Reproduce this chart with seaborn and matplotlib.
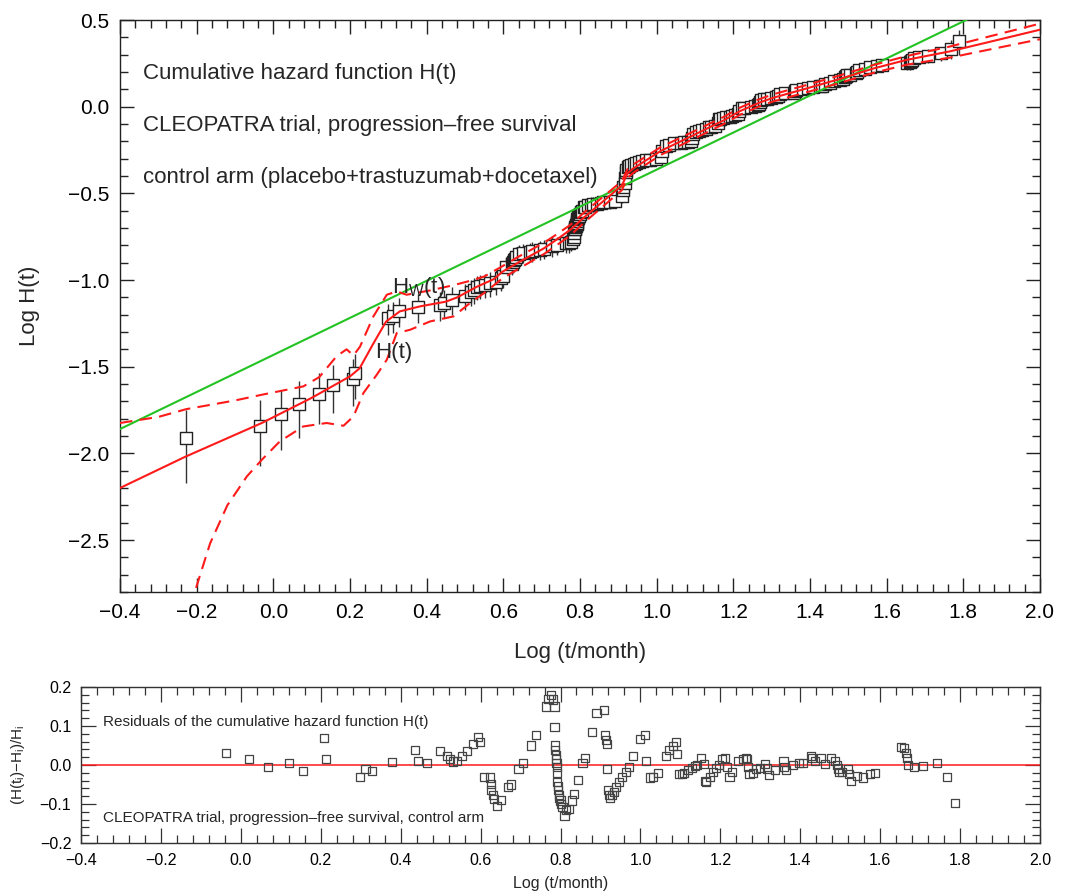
import numpy as np
import matplotlib
matplotlib.use("Agg")
import matplotlib.pyplot as plt
from matplotlib.ticker import MultipleLocator, FuncFormatter
import seaborn as sns

sns.set_theme(style="ticks")
plt.rcParams['font.family'] = ['Liberation Sans', 'DejaVu Sans']
plt.rcParams['mathtext.default'] = 'regular'
plt.rcParams['axes.unicode_minus'] = True

# ---- empirical cumulative hazard at the event times ----
log_t = [
    -0.227, -0.036, 0.020, 0.067, 0.120, 0.155, 0.208, 0.214, 0.299, 0.312,
    0.328, 0.378, 0.436, 0.444, 0.465, 0.499, 0.515, 0.524, 0.532, 0.540,
    0.553, 0.565, 0.580, 0.594, 0.598, 0.608, 0.623, 0.626, 0.627, 0.630,
    0.634, 0.640, 0.651, 0.669, 0.675, 0.695, 0.706, 0.727, 0.739, 0.764,
    0.770, 0.776, 0.781, 0.785, 0.785, 0.787, 0.787, 0.788, 0.789, 0.790,
    0.791, 0.791, 0.791, 0.793, 0.794, 0.796, 0.797, 0.800, 0.802, 0.805,
    0.810, 0.814, 0.820, 0.828, 0.834, 0.844, 0.855, 0.861, 0.878, 0.890,
    0.909, 0.911, 0.913, 0.917, 0.917, 0.919, 0.921, 0.924, 0.928, 0.934,
    0.940, 0.946, 0.955, 0.963, 0.971, 0.982, 0.998, 1.011, 1.015, 1.025,
    1.032, 1.044, 1.063, 1.072, 1.081, 1.089, 1.092, 1.096, 1.103, 1.110,
    1.119, 1.128, 1.136, 1.142, 1.152, 1.159, 1.163, 1.165, 1.174, 1.182,
    1.190, 1.196, 1.204, 1.212, 1.216, 1.223, 1.229, 1.245, 1.256, 1.264,
    1.267, 1.270, 1.273, 1.281, 1.289, 1.299, 1.311, 1.317, 1.322, 1.336,
    1.358, 1.360, 1.364, 1.382, 1.396, 1.408, 1.426, 1.430, 1.438, 1.453,
    1.463, 1.478, 1.486, 1.492, 1.494, 1.497, 1.504, 1.519, 1.522, 1.527,
    1.543, 1.557, 1.574, 1.588, 1.652, 1.660, 1.664, 1.667, 1.670, 1.685,
    1.708, 1.742, 1.767, 1.788,
]
log_H = [
    -1.912, -1.844, -1.775, -1.715, -1.658, -1.605, -1.570, -1.536, -1.218, -1.206,
    -1.177, -1.158, -1.147, -1.132, -1.114, -1.092, -1.068, -1.055, -1.042, -1.035,
    -1.027, -1.020, -1.009, -0.990, -0.977, -0.926, -0.906, -0.895, -0.886, -0.876,
    -0.866, -0.850, -0.844, -0.837, -0.833, -0.826, -0.820, -0.806, -0.800, -0.788,
    -0.786, -0.780, -0.765, -0.751, -0.731, -0.707, -0.703, -0.695, -0.689, -0.682,
    -0.675, -0.669, -0.659, -0.649, -0.643, -0.634, -0.628, -0.619, -0.610, -0.601,
    -0.580, -0.579, -0.569, -0.565, -0.562, -0.559, -0.558, -0.552, -0.548, -0.545,
    -0.513, -0.478, -0.464, -0.441, -0.413, -0.379, -0.365, -0.347, -0.342, -0.335,
    -0.330, -0.327, -0.321, -0.314, -0.309, -0.306, -0.302, -0.288, -0.256, -0.226,
    -0.220, -0.211, -0.209, -0.206, -0.201, -0.197, -0.181, -0.155, -0.147, -0.141,
    -0.134, -0.127, -0.120, -0.115, -0.111, -0.097, -0.073, -0.071, -0.067, -0.062,
    -0.057, -0.053, -0.049, -0.040, -0.026, -0.007, -0.006, -0.004, 0.005, 0.012,
    0.016, 0.027, 0.037, 0.042, 0.045, 0.051, 0.054, 0.063, 0.074, 0.077,
    0.081, 0.089, 0.094, 0.100, 0.106, 0.113, 0.117, 0.122, 0.130, 0.137,
    0.149, 0.153, 0.161, 0.170, 0.175, 0.181, 0.185, 0.193, 0.201, 0.212,
    0.218, 0.229, 0.235, 0.242, 0.251, 0.255, 0.262, 0.269, 0.278, 0.286,
    0.295, 0.307, 0.333, 0.376,
]
# relative standard error of H at each point (error bars: H*(1 -/+ se))
rel_se = [
    0.45, 0.41, 0.38, 0.36, 0.33, 0.31, 0.30, 0.29, 0.20, 0.20,
    0.19, 0.19, 0.19, 0.18, 0.18, 0.17, 0.17, 0.17, 0.16, 0.16,
    0.16, 0.16, 0.16, 0.15, 0.15, 0.14, 0.14, 0.14, 0.14, 0.14,
    0.14, 0.13, 0.13, 0.13, 0.13, 0.13, 0.13, 0.13, 0.12, 0.12,
    0.12, 0.12, 0.12, 0.12, 0.12, 0.11, 0.11, 0.11, 0.11, 0.11,
    0.11, 0.11, 0.11, 0.10, 0.10, 0.10, 0.10, 0.10, 0.10, 0.10,
    0.10, 0.10, 0.10, 0.10, 0.10, 0.09, 0.09, 0.09, 0.09, 0.09,
    0.09, 0.085, 0.085, 0.085, 0.085, 0.085, 0.085, 0.085, 0.075, 0.075,
    0.075, 0.075, 0.075, 0.075, 0.075, 0.075, 0.075, 0.075, 0.075, 0.075,
    0.075, 0.075, 0.075, 0.075, 0.075, 0.075, 0.07, 0.07, 0.07, 0.07,
    0.07, 0.07, 0.07, 0.07, 0.07, 0.07, 0.07, 0.07, 0.07, 0.07,
    0.07, 0.07, 0.07, 0.07, 0.07, 0.07, 0.07, 0.07, 0.07, 0.07,
    0.07, 0.07, 0.07, 0.07, 0.07, 0.07, 0.07, 0.07, 0.07, 0.07,
    0.07, 0.07, 0.07, 0.07, 0.075, 0.075, 0.075, 0.075, 0.075, 0.075,
    0.075, 0.075, 0.075, 0.075, 0.075, 0.075, 0.075, 0.075, 0.075, 0.075,
    0.075, 0.075, 0.075, 0.075, 0.09, 0.09, 0.09, 0.09, 0.09, 0.09,
    0.09, 0.09, 0.12, 0.16,
]
# relative residuals (H(t_i) - H_i) / H_i of the fitted model
resid = [
    -0.215, 0.030, 0.015, -0.004, 0.006, -0.015, 0.069, 0.015, -0.031, -0.011,
    -0.015, 0.008, 0.038, 0.011, 0.004, 0.035, 0.024, 0.015, 0.009, 0.011,
    0.023, 0.035, 0.055, 0.072, 0.058, -0.030, -0.032, -0.048, -0.063, -0.078,
    -0.087, -0.104, -0.090, -0.057, -0.050, -0.011, 0.006, 0.050, 0.078, 0.150,
    0.170, 0.180, 0.168, 0.150, 0.098, 0.050, 0.039, 0.026, 0.015, 0.004,
    -0.006, -0.020, -0.043, -0.055, -0.065, -0.076, -0.084, -0.091, -0.100, -0.107,
    -0.130, -0.116, -0.113, -0.091, -0.074, -0.039, 0.004, 0.017, 0.084, 0.133,
    0.142, 0.076, 0.065, 0.055, -0.010, -0.065, -0.076, -0.084, -0.078, -0.070,
    -0.057, -0.043, -0.030, -0.019, -0.006, 0.023, 0.067, 0.078, 0.011, -0.032,
    -0.030, -0.020, 0.022, 0.038, 0.049, 0.058, 0.028, -0.022, -0.023, -0.020,
    -0.013, -0.007, -0.002, 0.000, 0.017, 0.002, -0.042, -0.043, -0.030, -0.019,
    -0.007, 0.000, 0.015, 0.017, -0.004, -0.030, -0.019, 0.011, 0.015, 0.017,
    0.015, -0.004, -0.023, -0.020, -0.011, -0.007, 0.003, -0.009, -0.026, -0.013,
    0.009, -0.006, -0.013, 0.000, 0.006, 0.006, 0.022, 0.017, 0.011, 0.017,
    0.003, 0.017, 0.011, 0.000, -0.009, -0.017, -0.017, -0.011, -0.023, -0.041,
    -0.029, -0.032, -0.023, -0.020, 0.046, 0.043, 0.030, 0.017, 0.000, -0.004,
    -0.002, 0.004, -0.030, -0.098,
]

# ---- fitted model H(t) and its confidence band ----
model_logt = [-0.40, -0.23, -0.03, 0.10, 0.20, 0.225, 0.26, 0.294, 0.33, 0.383,
              0.45, 0.48, 0.53, 0.575, 0.598, 0.640, 0.706, 0.739, 0.776, 0.810,
              0.909, 0.924, 0.940, 1.011, 1.089, 1.174, 1.218, 1.27, 1.305, 1.391,
              1.478, 1.565, 1.652, 1.765, 1.88, 2.00]
model_logH = [-2.20, -2.02, -1.825, -1.68, -1.556, -1.51, -1.37, -1.24, -1.181, -1.152,
              -1.125, -1.10, -1.04, -0.995, -0.952, -0.898, -0.817, -0.767, -0.708, -0.640,
              -0.455, -0.385, -0.355, -0.255, -0.172, -0.080, -0.025, 0.025, 0.052, 0.105,
              0.160, 0.220, 0.270, 0.319, 0.380, 0.444]

upper_logt = [-0.40, -0.30, -0.227, -0.10, -0.03, 0.078, 0.12, 0.165, 0.191, 0.209,
              0.226, 0.261, 0.296, 0.322, 0.348, 0.409, 0.47, 0.513, 0.55, 0.598,
              0.640, 0.706, 0.739, 0.776, 0.810, 0.909, 0.924, 0.940, 1.011, 1.089,
              1.174, 1.218, 1.27, 1.305, 1.391, 1.478, 1.565, 1.652, 1.765, 1.88, 2.00]
upper_logH = [-1.825, -1.79, -1.745, -1.695, -1.662, -1.614, -1.56, -1.44, -1.40, -1.435,
              -1.385, -1.21, -1.085, -1.066, -1.085, -1.06, -1.03, -1.005, -0.98, -0.92,
              -0.865, -0.785, -0.737, -0.68, -0.612, -0.43, -0.36, -0.332, -0.233, -0.151,
              -0.06, -0.005, 0.045, 0.072, 0.125, 0.18, 0.24, 0.292, 0.347, 0.412, 0.479]

lower_logt = [-0.222, -0.205, -0.165, -0.12, -0.069, -0.03, 0.017, 0.078, 0.139, 0.183,
              0.209, 0.235, 0.270, 0.296, 0.322, 0.357, 0.409, 0.47, 0.513, 0.55,
              0.598, 0.640, 0.706, 0.739, 0.776, 0.810, 0.909, 0.924, 0.940, 1.011,
              1.089, 1.174, 1.218, 1.27, 1.305, 1.391, 1.478, 1.565, 1.652, 1.765,
              1.88, 2.00]
lower_logH = [-3.00, -2.80, -2.52, -2.30, -2.133, -2.037, -1.931, -1.845, -1.825, -1.841,
              -1.787, -1.652, -1.546, -1.46, -1.306, -1.287, -1.239, -1.21, -1.133, -1.075,
              -0.99, -0.935, -0.85, -0.80, -0.74, -0.67, -0.482, -0.41, -0.38, -0.278,
              -0.194, -0.101, -0.046, 0.004, 0.031, 0.083, 0.137, 0.195, 0.242, 0.283,
              0.335, 0.389]

# ---- Weibull reference H_W(t) ----
weibull_logt = [-0.40, 2.00]
weibull_logH = [-1.86, 0.706]

RED = "#ff1a1a"
GREEN = "#22c322"
INK = "#222222"

minus_fmt = FuncFormatter(lambda v, p: f"{v:.1f}".replace("-", "\u2212"))

fig = plt.figure(figsize=(10.67, 8.96), dpi=100)
W, H = 1067.0, 896.0
ax = fig.add_axes([120 / W, 1 - 592 / H, 920 / W, 572 / H])
ax2 = fig.add_axes([81 / W, 1 - 843 / H, 959 / W, 156 / H])

# ---------------- upper panel ----------------
lt = np.asarray(log_t)
lh = np.asarray(log_H)
se = np.asarray(rel_se)
ax.vlines(lt, lh + np.log10(1 - se), lh + np.log10(1 + se),
          color="#333333", lw=1.0, zorder=2)
sns.scatterplot(x=lt, y=lh, marker="s", s=72, color="white",
                edgecolor="#222222", linewidth=1.0, ax=ax, zorder=3)

sns.lineplot(x=weibull_logt, y=weibull_logH, color=GREEN, lw=1.5,
             estimator=None, sort=False, ax=ax, zorder=5)
sns.lineplot(x=model_logt, y=model_logH, color=RED, lw=1.5,
             estimator=None, sort=False, ax=ax, zorder=6)
for xs, ys in ((upper_logt, upper_logH), (lower_logt, lower_logH)):
    sns.lineplot(x=xs, y=ys, color=RED, lw=1.5, estimator=None, sort=False,
                 ax=ax, zorder=6)
    ax.lines[-1].set_dashes([6, 3.5])

ax.set_xlim(-0.4, 2.0)
ax.set_ylim(-2.8, 0.5)
ax.xaxis.set_major_locator(MultipleLocator(0.2))
ax.xaxis.set_minor_locator(MultipleLocator(0.04))
ax.yaxis.set_major_locator(MultipleLocator(0.5))
ax.yaxis.set_minor_locator(MultipleLocator(0.1))
ax.xaxis.set_major_formatter(minus_fmt)
ax.yaxis.set_major_formatter(minus_fmt)
ax.tick_params(which="both", direction="in", top=True, right=True,
               color=INK, width=1.0, labelsize=15, labelcolor="black")
ax.tick_params(which="major", length=10, pad=8)
ax.tick_params(which="minor", length=5.5)
for sp in ax.spines.values():
    sp.set_visible(True)
    sp.set_color(INK)
    sp.set_linewidth(1.0)
ax.set_xlabel("Log (t/month)", fontsize=16, labelpad=14)
ax.set_ylabel("Log H(t)", fontsize=16, labelpad=20)
ax.grid(False)

tx = dict(transform=ax.transAxes, fontsize=16, va="center", ha="left")
ax.text(0.025, 0.907, "Cumulative hazard function H(t)", **tx)
ax.text(0.025, 0.816, "CLEOPATRA trial, progression\u2013free survival", **tx)
ax.text(0.025, 0.724, "control arm (placebo+trastuzumab+docetaxel)", **tx)
ax.text(0.31, -1.073, r"H$_W$(t)", fontsize=16, va="baseline", ha="left", zorder=7)
ax.text(0.265, -1.448, "H(t)", fontsize=16, va="baseline", ha="left", zorder=7)

# ---------------- residual panel ----------------
sns.scatterplot(x=lt, y=np.asarray(resid), marker="s", s=34, color="none",
                edgecolor="#444444", linewidth=0.9, ax=ax2, zorder=3)
ax2.axhline(0.0, color=RED, lw=1.3, alpha=0.85, zorder=2)
ax2.set_xlim(-0.4, 2.0)
ax2.set_ylim(-0.2, 0.2)
ax2.xaxis.set_major_locator(MultipleLocator(0.2))
ax2.xaxis.set_minor_locator(MultipleLocator(0.04))
ax2.yaxis.set_major_locator(MultipleLocator(0.1))
ax2.yaxis.set_minor_locator(MultipleLocator(0.02))
ax2.xaxis.set_major_formatter(minus_fmt)
ax2.yaxis.set_major_formatter(minus_fmt)
ax2.tick_params(which="both", direction="in", top=True, right=True,
                color="#333333", width=0.9, labelsize=11.5, labelcolor="black")
ax2.tick_params(which="major", length=11, pad=7)
ax2.tick_params(which="minor", length=5.5)
for sp in ax2.spines.values():
    sp.set_visible(True)
    sp.set_color("#333333")
    sp.set_linewidth(1.0)
ax2.set_xlabel("Log (t/month)", fontsize=11.5, labelpad=6)
ax2.set_ylabel("(H(t$_i$)\u2212H$_i$)/H$_i$", fontsize=11, labelpad=9)
ax2.grid(False)
tx2 = dict(transform=ax2.transAxes, fontsize=11, va="center", ha="left")
ax2.text(0.023, 0.776, "Residuals of the cumulative hazard function H(t)", **tx2)
ax2.text(0.023, 0.16, "CLEOPATRA trial, progression\u2013free survival, control arm", **tx2)

fig.savefig("out.png", dpi=100, facecolor="white")
